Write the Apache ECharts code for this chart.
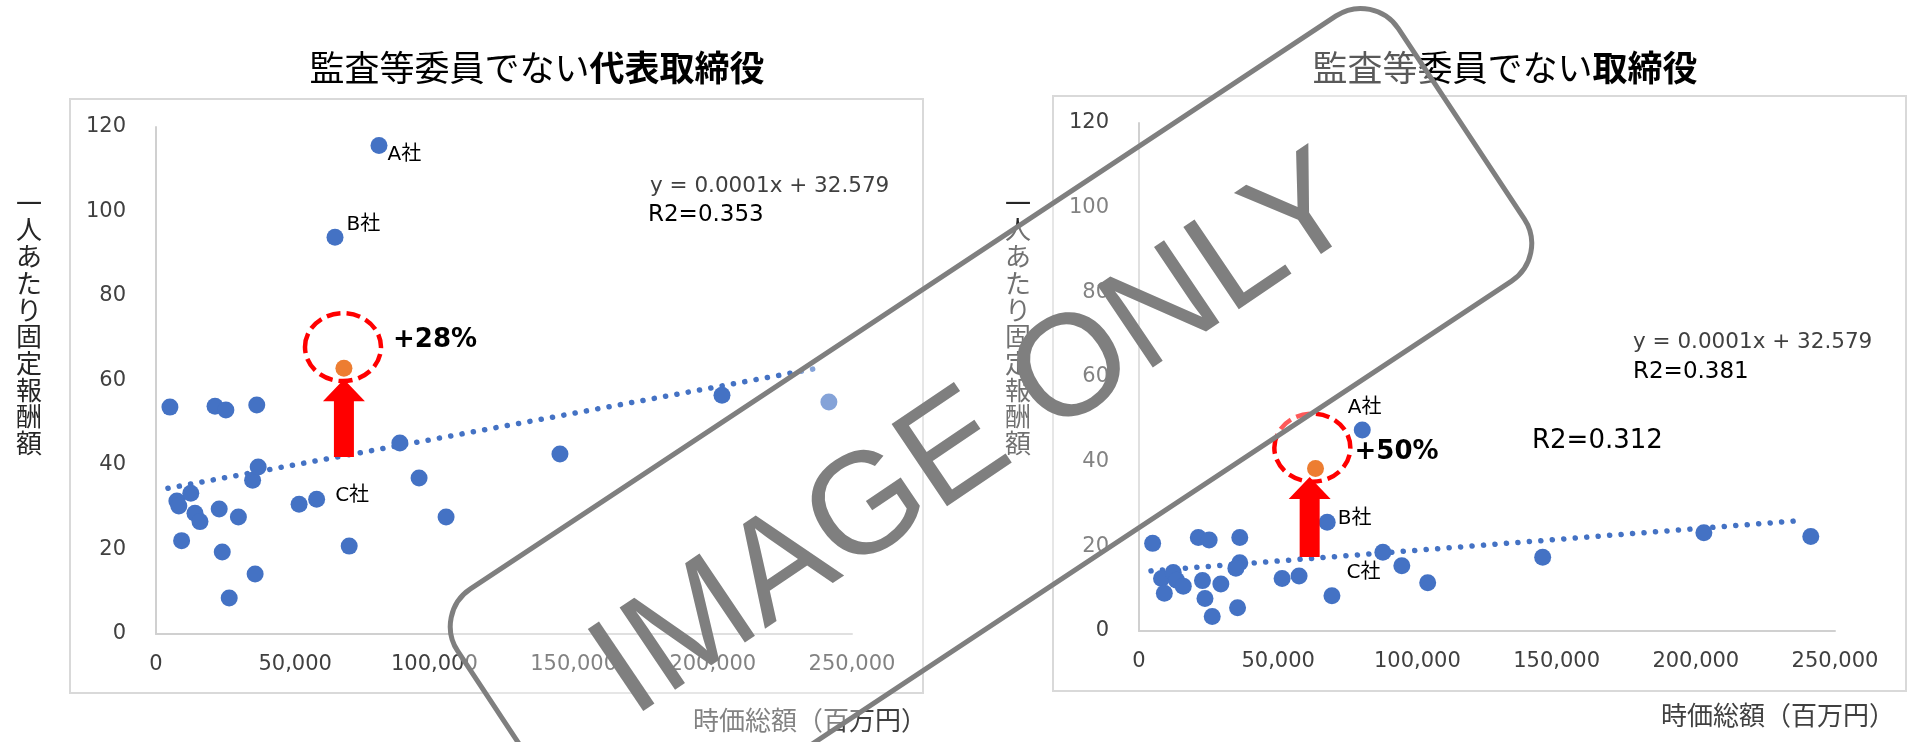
<!DOCTYPE html>
<html>
<head>
<meta charset="utf-8">
<script src="https://cdn.jsdelivr.net/npm/echarts@6/dist/echarts.min.js"></script>
<style>
  html, body { margin: 0; padding: 0; background: #fff; }
  #chart { width: 1915px; height: 742px; }
</style>
</head>
<body>
<div id="chart"></div>
<script>
// ---- data ----
const xTicks = [0, 50000, 100000, 150000, 200000, 250000];
const yTicks = [0, 20, 40, 60, 80, 100, 120];

// left: 監査等委員でない代表取締役
const leftPoints = [
  [5000, 53.7], [21200, 53.9], [25100, 53.0], [36200, 54.2],
  [7500, 31.5], [8200, 30.3], [12500, 33.3], [14000, 28.6], [15800, 26.6], [9200, 22.1],
  [22700, 29.6], [29600, 27.7], [23800, 19.4], [26300, 8.5], [35600, 14.2],
  [34700, 36.4], [36700, 39.5], [51400, 30.7], [69400, 20.8],
  [87600, 45.2], [94500, 36.9], [104200, 27.7], [145100, 42.6], [203300, 56.5], [241700, 54.9]
];
const leftNamed = [[80100, 115.6, 'A社'], [64300, 93.9, 'B社'], [57700, 31.9, 'C社']];
const leftFocus = [[67500, 62.9]];
const leftTrend = [[4300, 34.5], [239200, 63.1]];
// ellipse cx, cy, arrow x, arrow bottom, arrow tip, label x, label y
const leftMark = [67170, 67.9, 67500, 41.9, 60.3, 85130, 69.5];

// right: 監査等委員でない取締役
const rightPoints = [
  [4900, 20.7], [21300, 22.1], [25200, 21.5], [36200, 22.1], [36200, 16.1], [34800, 14.8],
  [8100, 12.4], [12300, 13.8], [13500, 12.0], [15900, 10.6], [9100, 8.9], [22800, 11.9],
  [23700, 7.7], [29400, 11.1], [26300, 3.4], [35400, 5.5],
  [51400, 12.4], [69300, 8.3], [87600, 18.6], [94400, 15.4], [103700, 11.4],
  [145000, 17.4], [202900, 23.2], [241300, 22.3]
];
const rightNamed = [[80200, 47.5, 'A社'], [67600, 25.7, 'B社'], [57500, 13.0, 'C社']];
const rightFocus = [[63400, 38.4]];
const rightTrend = [[4300, 14.2], [237800, 26.1]];
const rightMark = [62260, 43.3, 61300, 17.5, 36.4, 77420, 42.3];

const markText = ['+28%', '+50%'];

// ---- styles ----
const LATIN = "'DejaVu Sans', 'Noto Sans CJK JP', sans-serif";
const CJK = "'Noto Sans CJK JP', sans-serif";
const BLUE = '#4472C4';
const ORANGE = '#ED7D31';
const RED = '#FF0000';
const AXIS = '#404040';

const labelOffsets = [
  { 'A社': [-5, 9], 'B社': [-2, -12], 'C社': [5, -3] },
  { 'A社': [-28, -22], 'B社': [-3, -3], 'C社': [34, -3] }
];

const chart = echarts.init(document.getElementById('chart'));

function makeX(i) {
  return {
    type: 'value', gridIndex: i,
    min: xTicks[0], max: xTicks[xTicks.length - 1], interval: xTicks[1] - xTicks[0],
    axisLine: { show: true, lineStyle: { color: '#D0D0D0', width: 2 } },
    axisTick: { show: false },
    splitLine: { show: false },
    axisLabel: {
      margin: 20, fontSize: 21, fontFamily: LATIN, color: AXIS,
      formatter: v => v.toLocaleString('en-US')
    }
  };
}

function makeY(i) {
  return {
    type: 'value', gridIndex: i,
    min: yTicks[0], max: yTicks[yTicks.length - 1], interval: yTicks[1] - yTicks[0],
    axisLine: { show: true, lineStyle: { color: '#D0D0D0', width: 2 } },
    axisTick: { show: false },
    splitLine: { show: false },
    axisLabel: { margin: 30, fontSize: 21, fontFamily: LATIN, color: AXIS }
  };
}

function renderMark(k) {
  return function (params, api) {
    const c = api.coord([api.value(0), api.value(1)]);
    const b = api.coord([api.value(2), api.value(3)]);
    const t = api.coord([api.value(2), api.value(4)]);
    const p = api.coord([api.value(5), api.value(6)]);
    const x = b[0], hw = 10, hh = 21, hl = 22;
    return {
      type: 'group',
      children: [
        {
          type: 'ellipse',
          shape: { cx: c[0], cy: c[1], rx: 38, ry: 34 },
          style: { fill: 'none', stroke: RED, lineWidth: 4.5, lineDash: [14, 6] }
        },
        {
          type: 'polygon',
          shape: {
            points: [
              [x - hw, b[1]], [x - hw, t[1] + hl], [x - hh, t[1] + hl], [x, t[1]],
              [x + hh, t[1] + hl], [x + hw, t[1] + hl], [x + hw, b[1]]
            ]
          },
          style: { fill: RED }
        },
        {
          type: 'text', x: p[0], y: p[1],
          style: {
            text: markText[k], fontSize: 26, fontWeight: 'bold', fontFamily: LATIN,
            fill: '#000', align: 'left', verticalAlign: 'middle'
          }
        }
      ]
    };
  };
}

function seriesFor(i, points, named, focus, trend, mark) {
  return [
    {
      type: 'line', xAxisIndex: i, yAxisIndex: i, data: trend, symbol: 'none', silent: true, z: 2,
      lineStyle: { color: BLUE, width: 5.5, type: [0.1, 11.4], cap: 'round' }
    },
    {
      type: 'scatter', xAxisIndex: i, yAxisIndex: i, data: points, symbolSize: 17, z: 3,
      itemStyle: { color: BLUE, opacity: 1 }
    },
    {
      type: 'scatter', xAxisIndex: i, yAxisIndex: i, symbolSize: 17, z: 3,
      itemStyle: { color: BLUE, opacity: 1 },
      label: {
        show: true, position: 'right', formatter: '{b}',
        fontSize: 20, fontFamily: LATIN, color: '#000'
      },
      data: named.map(d => ({
        value: [d[0], d[1]], name: d[2],
        label: { offset: labelOffsets[i][d[2]] }
      }))
    },
    {
      type: 'scatter', xAxisIndex: i, yAxisIndex: i, data: focus, symbolSize: 17, z: 3,
      itemStyle: { color: ORANGE, opacity: 1 }
    },
    {
      type: 'custom', xAxisIndex: i, yAxisIndex: i, data: [mark], silent: true, z: 4,
      renderItem: renderMark(i)
    }
  ];
}

function vertical(s) { return s.split('').join('\n'); }

const option = {
  animation: false,
  grid: [
    { left: 156, right: 1063, top: 127, bottom: 108 },
    { left: 1139, right: 80, top: 123, bottom: 111 }
  ],
  xAxis: [makeX(0), makeX(1)],
  yAxis: [makeY(0), makeY(1)],
  series: [].concat(
    seriesFor(0, leftPoints, leftNamed, leftFocus, leftTrend, leftMark),
    seriesFor(1, rightPoints, rightNamed, rightFocus, rightTrend, rightMark)
  ),
  graphic: [
    // chart frames
    { type: 'rect', shape: { x: 70, y: 99, width: 853, height: 594 },
      style: { fill: 'none', stroke: '#D9D9D9', lineWidth: 2 } },
    { type: 'rect', shape: { x: 1053, y: 96, width: 853, height: 595 },
      style: { fill: 'none', stroke: '#D9D9D9', lineWidth: 2 } },
    // titles
    { type: 'text', x: 537, y: 68,
      style: {
        text: '{n|監査等委員でない}{b|代表取締役}', align: 'center', verticalAlign: 'middle',
        rich: {
          n: { fontSize: 35, fontFamily: CJK, fill: '#000' },
          b: { fontSize: 35, fontFamily: CJK, fontWeight: 'bold', fill: '#000' }
        }
      } },
    { type: 'text', x: 1505, y: 68,
      style: {
        text: '{n|監査等委員でない}{b|取締役}', align: 'center', verticalAlign: 'middle',
        rich: {
          n: { fontSize: 35, fontFamily: CJK, fill: '#000' },
          b: { fontSize: 35, fontFamily: CJK, fontWeight: 'bold', fill: '#000' }
        }
      } },
    // axis names
    { type: 'text', x: 29, y: 323,
      style: { text: vertical('一人あたり固定報酬額'), fontSize: 26, lineHeight: 26.7, fontFamily: CJK,
        fill: '#262626', align: 'center', verticalAlign: 'middle' } },
    { type: 'text', x: 1018, y: 323,
      style: { text: vertical('一人あたり固定報酬額'), fontSize: 26, lineHeight: 26.7, fontFamily: CJK,
        fill: '#262626', align: 'center', verticalAlign: 'middle' } },
    { type: 'text', x: 927, y: 720,
      style: { text: '時価総額（百万円）', fontSize: 26, fontFamily: CJK, fill: AXIS,
        align: 'right', verticalAlign: 'middle' } },
    { type: 'text', x: 1895, y: 715,
      style: { text: '時価総額（百万円）', fontSize: 26, fontFamily: CJK, fill: AXIS,
        align: 'right', verticalAlign: 'middle' } },
    // regression notes
    { type: 'text', x: 650, y: 186,
      style: { text: 'y = 0.0001x + 32.579', fontSize: 21.5, fontFamily: LATIN, fill: AXIS, verticalAlign: 'middle' } },
    { type: 'text', x: 648, y: 215,
      style: { text: 'R2=0.353', fontSize: 23, fontFamily: LATIN, fill: '#000', verticalAlign: 'middle' } },
    { type: 'text', x: 1633, y: 342,
      style: { text: 'y = 0.0001x + 32.579', fontSize: 21.5, fontFamily: LATIN, fill: AXIS, verticalAlign: 'middle' } },
    { type: 'text', x: 1633, y: 372,
      style: { text: 'R2=0.381', fontSize: 23, fontFamily: LATIN, fill: '#000', verticalAlign: 'middle' } },
    { type: 'text', x: 1532, y: 441,
      style: { text: 'R2=0.312', fontSize: 26, fontFamily: LATIN, fill: '#000', verticalAlign: 'middle' } },
    // stamp over the picture
    { type: 'rect', x: 991, y: 435, rotation: 33.5 * Math.PI / 180, z: 100,
      shape: { x: -564, y: -159, width: 1128, height: 318, r: 45 },
      style: { fill: 'rgba(255,255,255,0.35)', stroke: '#7F7F7F', lineWidth: 5 } },
    { type: 'text', x: 977, y: 438, rotation: 34 * Math.PI / 180, z: 101,
      style: { text: 'IMAGE ONLY', fontSize: 144, fontFamily: "'Liberation Sans', sans-serif",
        fill: '#7F7F7F', align: 'center', verticalAlign: 'middle' } }
  ]
};

chart.setOption(option);
</script>
</body>
</html>
